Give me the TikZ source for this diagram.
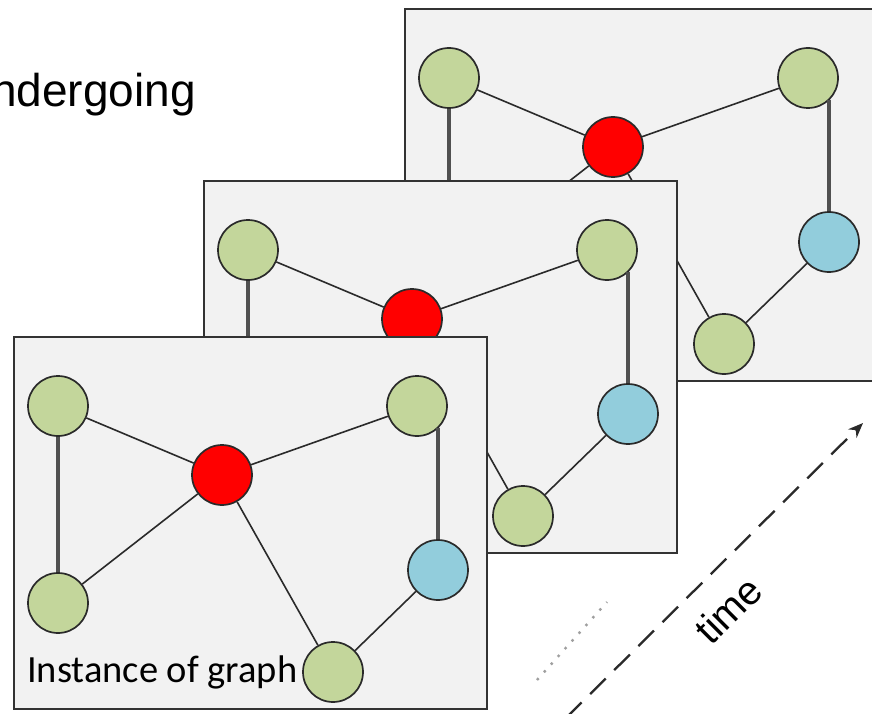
\documentclass[tikz,border=0pt]{standalone}
\usepackage{fontspec}
\setmainfont{Liberation Sans}
\newfontfamily\calib{Carlito}
\usetikzlibrary{arrows.meta}
\definecolor{ngreen}{HTML}{C3D69B}
\definecolor{nred}{HTML}{FF0000}
\definecolor{nblue}{HTML}{92CDDC}
\definecolor{pfill}{HTML}{F2F2F2}
\definecolor{pborder}{HTML}{333333}
\definecolor{ecol}{HTML}{2A2A2A}
\definecolor{vcol}{HTML}{505050}
\tikzset{
  panel/.style={fill=pfill,draw=pborder,line width=2.8pt},
  gnode/.style={circle,draw=ecol,line width=1.7pt,minimum size=60pt,inner sep=0pt},
  thinedge/.style={draw=ecol,line width=1.6pt},
  vedge/.style={draw=vcol,line width=3.2pt},
}
\newcommand\gpanel[3]{%
  \begin{scope}[shift={(#1,#2)}]
    \draw[panel] (0,0) rectangle (473,372);
    \node[gnode,fill=ngreen] (#3tl) at (44,69) {};
    \node[gnode,fill=nred]   (#3r)  at (208,138) {};
    \node[gnode,fill=ngreen] (#3tr) at (403,69) {};
    \node[gnode,fill=ngreen] (#3bl) at (44,266) {};
    \node[gnode,fill=nblue]  (#3b)  at (424,233) {};
    \node[gnode,fill=ngreen] (#3bt) at (319,335) {};
    \draw[thinedge] (#3tl) -- (#3r);
    \draw[thinedge] (#3tr) -- (#3r);
    \draw[thinedge] (#3bl) -- (#3r);
    \draw[thinedge] (#3r) -- (#3bt);
    \draw[thinedge] (#3b) -- (#3bt);
    \draw[vedge] (#3tl) -- (#3bl);
    \draw[vedge,shorten >=-8.6pt] (#3b.north) -- (#3b.north |- #3tr.south);
  \end{scope}}
\begin{document}
\begin{tikzpicture}[x=1pt,y=-1pt]
  \useasboundingbox[fill=white] (0,0) rectangle (872,714);
  \node[anchor=base east,inner sep=0pt,font=\fontsize{46}{50}\selectfont] (title) at (196,107) {ndergoing};
  \gpanel{405}{9}{b}
  \gpanel{204}{181}{m}
  \gpanel{14}{337}{f}
  \node[anchor=base west,inner sep=0pt,font=\calib\fontsize{38.5}{42}\selectfont] (inst) at (27,682) {Instance of graph};
  \coordinate (t0) at (566,718);
  \coordinate (t1) at (863,423);
  \draw[ecol,line width=2.3pt,dash pattern=on 22pt off 12pt,-{Stealth[length=15pt,width=12pt]}] (t0) -- (t1);
  \coordinate (d0) at (537,680);
  \coordinate (d1) at (607,602);
  \draw[gray!75,line width=2.4pt,dash pattern=on 2.4pt off 8pt] (d0) -- (d1);
  \node[rotate=45,inner sep=0pt,font=\fontsize{40}{44}\selectfont] (time) at (728,610) {time};
\end{tikzpicture}
\end{document}
